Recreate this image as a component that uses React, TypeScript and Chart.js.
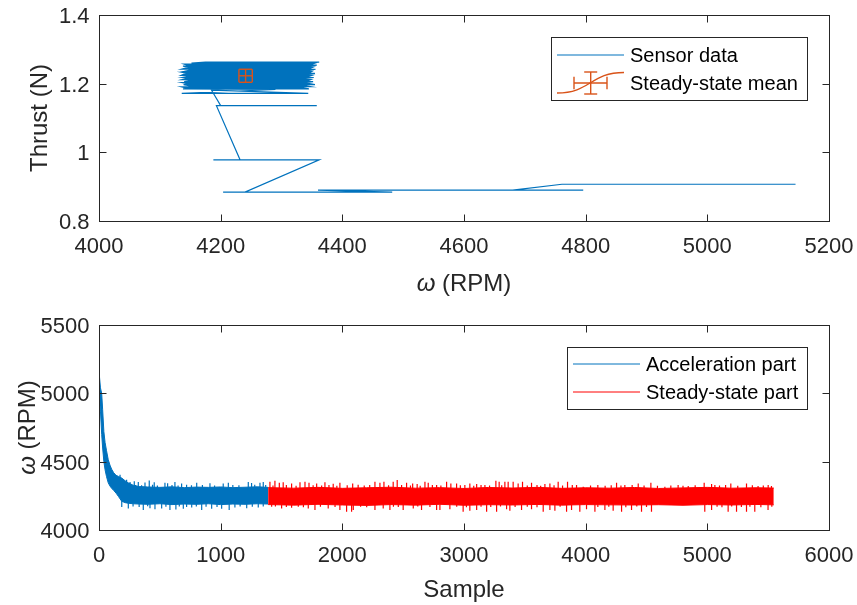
import React, { useEffect, useRef } from 'react';
import { Chart, registerables } from 'chart.js';

Chart.register(...registerables);

const BLUE = '#0072BD';
const ORANGE = '#D95319';
const RED = '#FF0000';
const AXIS = '#262626';
const FONT = '"Liberation Sans", Arial, Helvetica, sans-serif';

// ---------- upper panel: thrust against rotor speed ----------
const omegaTicks = [4000, 4200, 4400, 4600, 4800, 5000, 5200];
const omegaTickLabels = ['4000', '4200', '4400', '4600', '4800', '5000', '5200'];
const thrustTicks = [0.8, 1.0, 1.2, 1.4];
const thrustTickLabels = ['0.8', '1', '1.2', '1.4'];

// spin-down trace (RPM, N) while the load cell lags behind
const transientOmega = [5145, 4761, 4860, 4761, 4680, 4796, 4360, 4482, 4204, 4240, 4362, 4188, 4232, 4193, 4358, 4200, 4185, 4344, 4136, 4290];
const transientThrust = [0.907, 0.907, 0.907, 0.907, 0.89, 0.89, 0.89, 0.884, 0.884, 0.884, 0.978, 0.978, 0.978, 1.136, 1.136, 1.136, 1.181, 1.172, 1.172, 1.183];

// steady block: thrust level with the lowest / highest speed seen at it
const blockThrust = [1.185, 1.188, 1.191, 1.194, 1.197, 1.2, 1.203, 1.206, 1.209, 1.212, 1.215, 1.218, 1.221, 1.224, 1.227, 1.23, 1.233, 1.236, 1.239, 1.242, 1.245, 1.248, 1.251, 1.254, 1.257, 1.26, 1.263];
const blockLeft = [4138, 4143, 4136, 4148, 4139, 4145, 4137, 4140, 4150, 4136, 4142, 4138, 4146, 4135, 4139, 4145, 4137, 4140, 4148, 4136, 4142, 4150, 4138, 4145, 4140, 4152, 4175];
const blockRight = [4345, 4336, 4349, 4341, 4355, 4346, 4338, 4352, 4344, 4348, 4340, 4353, 4345, 4350, 4342, 4355, 4347, 4350, 4344, 4356, 4348, 4352, 4345, 4358, 4350, 4355, 4362];

// steady-state mean with its error bars
const meanOmega = 4241;
const meanThrust = 1.223;
const omegaErr = 11;
const thrustErr = 0.019;

// ---------- lower panel: rotor speed against sample ----------
const sampleTicks = [0, 1000, 2000, 3000, 4000, 5000, 6000];
const sampleTickLabels = ['0', '1000', '2000', '3000', '4000', '5000', '6000'];
const rpmTicks = [4000, 4500, 5000, 5500];
const rpmTickLabels = ['4000', '4500', '5000', '5500'];

// acceleration part: upper / lower envelope of the noisy trace
const accelSamples = [0, 4, 12, 22, 30, 40, 50, 62, 76, 90, 104, 120, 140, 160, 187, 215, 240, 280, 330, 400, 500, 600, 700, 800, 900, 1000, 1100, 1200, 1300, 1390];
const accelUpper = [5148, 5120, 5040, 5000, 4880, 4720, 4640, 4580, 4515, 4475, 4445, 4420, 4400, 4392, 4380, 4360, 4345, 4328, 4318, 4315, 4312, 4316, 4310, 4314, 4312, 4315, 4310, 4313, 4316, 4312];
const accelLower = [5148, 4960, 4870, 4700, 4600, 4500, 4440, 4390, 4345, 4322, 4305, 4290, 4270, 4245, 4210, 4200, 4196, 4192, 4190, 4188, 4192, 4186, 4190, 4188, 4192, 4186, 4190, 4188, 4192, 4190];
// excursions above / below the band
const accelHighSamples = [173, 227, 255, 290, 300, 323, 350, 378, 413, 440, 454, 480, 542, 564, 600, 624, 650, 679, 720, 760, 803, 850, 912, 950, 1021, 1063, 1100, 1150, 1227, 1254, 1280, 1323, 1350, 1370];
const accelHighValues = [4405, 4368, 4352, 4356, 4330, 4352, 4328, 4348, 4362, 4332, 4350, 4326, 4345, 4342, 4330, 4352, 4326, 4340, 4332, 4328, 4345, 4330, 4342, 4326, 4340, 4345, 4330, 4328, 4352, 4344, 4332, 4345, 4352, 4330];
const accelLowSamples = [187, 241, 280, 330, 364, 400, 419, 460, 515, 550, 583, 632, 660, 693, 720, 762, 800, 844, 880, 926, 970, 1008, 1070, 1117, 1160, 1214, 1260, 1309, 1350];
const accelLowValues = [4168, 4158, 4172, 4168, 4146, 4174, 4160, 4152, 4158, 4170, 4146, 4150, 4172, 4155, 4168, 4165, 4172, 4146, 4170, 4155, 4168, 4155, 4146, 4165, 4172, 4160, 4170, 4165, 4172];

// steady-state part
const steadySamples = [1390, 1600, 1800, 2000, 2200, 2400, 2600, 2800, 3000, 3200, 3400, 3600, 3800, 4000, 4200, 4400, 4600, 4800, 5000, 5200, 5400, 5546];
const steadyUpper = [4310, 4306, 4312, 4305, 4309, 4313, 4306, 4310, 4304, 4311, 4307, 4312, 4305, 4309, 4306, 4311, 4304, 4308, 4312, 4306, 4309, 4307];
const steadyLower = [4186, 4182, 4188, 4183, 4180, 4186, 4182, 4188, 4181, 4185, 4183, 4187, 4182, 4186, 4184, 4183, 4185, 4181, 4186, 4183, 4187, 4184];
const steadyHighSamples = [1405, 1430, 1446, 1482, 1514, 1540, 1583, 1620, 1652, 1693, 1726, 1760, 1789, 1830, 1857, 1890, 1925, 1955, 1980, 2040, 2085, 2130, 2180, 2225, 2268, 2309, 2342, 2380, 2418, 2451, 2487, 2528, 2560, 2578, 2615, 2640, 2679, 2706, 2740, 2775, 2810, 2857, 2892, 2939, 2970, 3007, 3048, 3080, 3104, 3140, 3172, 3210, 3262, 3289, 3310, 3336, 3363, 3404, 3445, 3481, 3520, 3555, 3600, 3630, 3665, 3706, 3740, 3774, 3810, 3851, 3890, 3925, 3980, 4040, 4100, 4160, 4210, 4254, 4290, 4322, 4382, 4432, 4480, 4536, 4590, 4651, 4700, 4760, 4800, 4843, 4900, 4974, 5035, 5062, 5100, 5150, 5193, 5250, 5322, 5370, 5417, 5460, 5500, 5527];
const steadyHighValues = [4353, 4326, 4361, 4346, 4349, 4330, 4341, 4324, 4349, 4353, 4346, 4328, 4341, 4326, 4349, 4330, 4339, 4324, 4346, 4328, 4341, 4332, 4326, 4330, 4353, 4346, 4353, 4328, 4353, 4366, 4329, 4346, 4326, 4341, 4336, 4324, 4353, 4346, 4330, 4329, 4326, 4353, 4341, 4341, 4328, 4329, 4341, 4324, 4336, 4330, 4329, 4326, 4361, 4353, 4328, 4353, 4353, 4353, 4341, 4353, 4326, 4346, 4330, 4324, 4336, 4341, 4328, 4353, 4326, 4353, 4330, 4329, 4317, 4326, 4330, 4324, 4328, 4346, 4326, 4329, 4329, 4341, 4326, 4346, 4324, 4317, 4326, 4330, 4324, 4322, 4328, 4346, 4336, 4329, 4326, 4330, 4341, 4324, 4341, 4328, 4322, 4326, 4330, 4322];
const steadyLowSamples = [1419, 1450, 1501, 1540, 1583, 1638, 1680, 1720, 1775, 1820, 1884, 1940, 1980, 2035, 2076, 2090, 2150, 2200, 2268, 2336, 2391, 2420, 2460, 2500, 2583, 2620, 2651, 2720, 2775, 2802, 2884, 2940, 2993, 3020, 3048, 3104, 3140, 3186, 3220, 3268, 3300, 3350, 3377, 3420, 3473, 3520, 3555, 3600, 3651, 3706, 3747, 3790, 3843, 3884, 3952, 4007, 4076, 4100, 4158, 4190, 4226, 4295, 4330, 4377, 4420, 4459, 4500, 4541, 4979, 5035, 5080, 5120, 5171, 5200, 5240, 5280, 5322, 5350, 5390, 5440, 5499, 5530];
const steadyLowValues = [4170, 4172, 4158, 4168, 4163, 4170, 4166, 4158, 4146, 4170, 4158, 4168, 4146, 4134, 4134, 4146, 4170, 4166, 4146, 4158, 4146, 4170, 4168, 4146, 4158, 4172, 4146, 4168, 4146, 4146, 4151, 4170, 4134, 4166, 4141, 4146, 4170, 4134, 4168, 4134, 4172, 4151, 4141, 4168, 4146, 4170, 4151, 4166, 4134, 4146, 4141, 4170, 4134, 4146, 4134, 4151, 4134, 4168, 4146, 4170, 4141, 4134, 4166, 4146, 4172, 4134, 4168, 4134, 4134, 4146, 4170, 4166, 4134, 4172, 4134, 4168, 4134, 4170, 4134, 4166, 4146, 4170];

// speed the noise band is centred on
const bandMidRpm = 4250;

// ---------- helpers ----------
type Pt = { x: number; y: number | null };

function envelope(xs: number[], ys: number[]): Pt[] {
  return xs.map((x, i) => ({ x, y: ys[i] }));
}

function spikes(xs: number[], ys: number[]): Pt[] {
  const out: Pt[] = [];
  xs.forEach((x, i) => {
    out.push({ x, y: bandMidRpm }, { x, y: ys[i] }, { x, y: null });
  });
  return out;
}

function sensorTrace(): Pt[] {
  const pts: Pt[] = transientOmega.map((w, i) => ({ x: w, y: transientThrust[i] }));
  blockThrust.forEach((t, i) => {
    const a = { x: blockLeft[i], y: t };
    const b = { x: blockRight[i], y: t };
    if (i % 2 === 0) pts.push(a, b);
    else pts.push(b, a);
  });
  return pts;
}

function seg(ctx: CanvasRenderingContext2D, x0: number, y0: number, x1: number, y1: number) {
  ctx.beginPath();
  ctx.moveTo(x0, y0);
  ctx.lineTo(x1, y1);
  ctx.stroke();
}

const crisp = (v: number) => Math.round(v) + 0.5;

function drawFrame(chart: any, xs: number[], ys: number[]) {
  const { ctx, chartArea: a, scales } = chart;
  const L = crisp(a.left), R = crisp(a.right), T = crisp(a.top), B = crisp(a.bottom);
  const len = 7;
  ctx.save();
  ctx.strokeStyle = AXIS;
  ctx.lineWidth = 1;
  ctx.strokeRect(L, T, R - L, B - T);
  xs.forEach((v) => {
    const px = crisp(scales.x.getPixelForValue(v));
    seg(ctx, px, B, px, B - len);
    seg(ctx, px, T, px, T + len);
  });
  ys.forEach((v) => {
    const py = crisp(scales.y.getPixelForValue(v));
    seg(ctx, L, py, L + len, py);
    seg(ctx, R, py, R - len, py);
  });
  ctx.restore();
}

function drawTickLabels(chart: any, xs: number[], xl: string[], ys: number[], yl: string[]) {
  const { ctx, chartArea: a, scales } = chart;
  const size = 22;
  ctx.save();
  ctx.fillStyle = AXIS;
  ctx.font = `${size}px ${FONT}`;
  ctx.textBaseline = 'alphabetic';
  ctx.textAlign = 'center';
  xs.forEach((v, i) => {
    ctx.fillText(xl[i], scales.x.getPixelForValue(v), a.bottom + 24 + size * 0.358);
  });
  ctx.textAlign = 'right';
  ys.forEach((v, i) => {
    ctx.fillText(yl[i], a.left - 9.5, scales.y.getPixelForValue(v) + size * 0.358);
  });
  ctx.restore();
}

type Part = { text: string; italic?: boolean };

function drawTitle(ctx: CanvasRenderingContext2D, parts: Part[], cx: number, cy: number, size: number, vertical: boolean) {
  ctx.save();
  ctx.fillStyle = AXIS;
  ctx.textBaseline = 'alphabetic';
  ctx.textAlign = 'left';
  const fontOf = (p: Part) => `${p.italic ? 'italic ' : ''}${size}px ${FONT}`;
  let total = 0;
  const widths = parts.map((p) => {
    ctx.font = fontOf(p);
    const w = ctx.measureText(p.text).width;
    total += w;
    return w;
  });
  ctx.translate(cx, cy);
  if (vertical) ctx.rotate(-Math.PI / 2);
  let x = -total / 2;
  parts.forEach((p, i) => {
    ctx.font = fontOf(p);
    ctx.fillText(p.text, x, size * 0.358);
    x += widths[i];
  });
  ctx.restore();
}

function legendBox(ctx: CanvasRenderingContext2D, a: any, labels: string[], h: number) {
  ctx.font = `20px ${FONT}`;
  const tw = Math.max(...labels.map((l) => ctx.measureText(l).width));
  const w = Math.round(79 + tw + 9);
  const right = Math.round(a.right - 22);
  const left = right - w;
  const top = Math.round(a.top + 22);
  ctx.fillStyle = '#ffffff';
  ctx.fillRect(left, top, w, h);
  ctx.strokeStyle = AXIS;
  ctx.lineWidth = 1;
  ctx.strokeRect(left + 0.5, top + 0.5, w, h);
  return { left, top };
}

function legendText(ctx: CanvasRenderingContext2D, text: string, x: number, cy: number) {
  ctx.fillStyle = '#000000';
  ctx.font = `20px ${FONT}`;
  ctx.textAlign = 'left';
  ctx.textBaseline = 'alphabetic';
  ctx.fillText(text, x, cy + 20 * 0.358);
}

const omegaTitle: Part[] = [{ text: 'ω', italic: true }, { text: ' (RPM)' }];

// ---------- upper panel decorations ----------
const thrustDecor = {
  id: 'thrustDecor',
  afterDatasetsDraw(chart: any) {
    const { ctx, chartArea: a, scales } = chart;
    const sx = scales.x, sy = scales.y;

    // mean with error bars
    const cx = sx.getPixelForValue(meanOmega);
    const cy = sy.getPixelForValue(meanThrust);
    const xl = sx.getPixelForValue(meanOmega - omegaErr);
    const xr = sx.getPixelForValue(meanOmega + omegaErr);
    const yb = sy.getPixelForValue(meanThrust - thrustErr);
    const yt = sy.getPixelForValue(meanThrust + thrustErr);
    const cap = 6.5;
    ctx.save();
    ctx.strokeStyle = ORANGE;
    ctx.lineWidth = 1.4;
    seg(ctx, xl, cy, xr, cy);
    seg(ctx, xl, cy - cap, xl, cy + cap);
    seg(ctx, xr, cy - cap, xr, cy + cap);
    seg(ctx, cx, yb, cx, yt);
    seg(ctx, cx - cap, yb, cx + cap, yb);
    seg(ctx, cx - cap, yt, cx + cap, yt);
    ctx.restore();

    drawFrame(chart, omegaTicks, thrustTicks);
    drawTickLabels(chart, omegaTicks, omegaTickLabels, thrustTicks, thrustTickLabels);

    // legend
    ctx.save();
    const labels = ['Sensor data', 'Steady-state mean'];
    const { left, top } = legendBox(ctx, a, labels, 63);
    const r1 = top + 18, r2 = top + 46;
    ctx.strokeStyle = BLUE;
    ctx.lineWidth = 1.2;
    seg(ctx, left + 6, r1, left + 73, r1);
    // errorbar glyph
    ctx.strokeStyle = ORANGE;
    ctx.lineWidth = 1.4;
    const x0 = left + 6, x1 = left + 73, xm = (x0 + x1) / 2;
    ctx.beginPath();
    ctx.moveTo(x0, r2 + 10);
    ctx.bezierCurveTo(xm, r2 + 10, xm, r2 - 10.5, x1, r2 - 10.5);
    ctx.stroke();
    const gx = left + 39.7;
    seg(ctx, left + 23, r2, left + 56, r2);
    seg(ctx, left + 23, r2 - 6.3, left + 23, r2 + 6.3);
    seg(ctx, left + 56, r2 - 6.3, left + 56, r2 + 6.3);
    seg(ctx, gx, r2 - 11, gx, r2 + 11);
    seg(ctx, gx - 6.5, r2 - 11, gx + 6.5, r2 - 11);
    seg(ctx, gx - 6.5, r2 + 11, gx + 6.5, r2 + 11);
    legendText(ctx, labels[0], left + 79, r1);
    legendText(ctx, labels[1], left + 79, r2);
    ctx.restore();

    // axis titles
    const midX = (a.left + a.right) / 2;
    drawTitle(ctx, omegaTitle, midX, a.bottom + 61, 24, false);
    drawTitle(ctx, [{ text: 'Thrust (N)' }], 38.5, (a.top + a.bottom) / 2, 24, true);
  },
};

// ---------- lower panel decorations ----------
const speedDecor = {
  id: 'speedDecor',
  afterDatasetsDraw(chart: any) {
    const { ctx, chartArea: a } = chart;
    drawFrame(chart, sampleTicks, rpmTicks);
    drawTickLabels(chart, sampleTicks, sampleTickLabels, rpmTicks, rpmTickLabels);

    ctx.save();
    const labels = ['Acceleration part', 'Steady-state part'];
    const { left, top } = legendBox(ctx, a, labels, 62);
    const r1 = top + 17, r2 = top + 45;
    ctx.lineWidth = 1;
    ctx.strokeStyle = BLUE;
    seg(ctx, left + 6, r1, left + 73, r1);
    ctx.strokeStyle = RED;
    seg(ctx, left + 6, r2, left + 73, r2);
    legendText(ctx, labels[0], left + 79, r1);
    legendText(ctx, labels[1], left + 79, r2);
    ctx.restore();

    const midX = (a.left + a.right) / 2;
    drawTitle(ctx, [{ text: 'Sample' }], midX, a.bottom + 58, 24, false);
    drawTitle(ctx, omegaTitle, 26, (a.top + a.bottom) / 2, 24, true);
  },
};

function baseScales(xMin: number, xMax: number, yMin: number, yMax: number, xHeight: number) {
  const hidden = {
    grid: { display: false, drawTicks: false },
    border: { display: false },
    ticks: { display: false },
  };
  return {
    x: { type: 'linear', min: xMin, max: xMax, ...hidden, afterFit: (s: any) => { s.height = xHeight; } },
    y: { type: 'linear', min: yMin, max: yMax, ...hidden, afterFit: (s: any) => { s.width = 99; } },
  };
}

const commonOptions = {
  animation: false,
  responsive: false,
  devicePixelRatio: 1,
  events: [],
  plugins: { legend: { display: false }, tooltip: { enabled: false } },
  elements: { point: { radius: 0 }, line: { tension: 0 } },
};

export default function App() {
  const topRef = useRef<HTMLCanvasElement>(null);
  const bottomRef = useRef<HTMLCanvasElement>(null);

  useEffect(() => {
    const top = new Chart(topRef.current as HTMLCanvasElement, {
      type: 'line',
      data: {
        datasets: [
          { label: 'Sensor data', data: sensorTrace(), borderColor: BLUE, borderWidth: 1.2, fill: false },
        ],
      },
      options: {
        ...commonOptions,
        layout: { padding: { left: 0, right: 28, top: 15, bottom: 0 } },
        scales: baseScales(4000, 5200, 0.8, 1.4, 79),
      },
      plugins: [thrustDecor],
    } as any);

    const bottom = new Chart(bottomRef.current as HTMLCanvasElement, {
      type: 'line',
      data: {
        datasets: [
          { label: 'accel-low', data: envelope(accelSamples, accelLower), borderColor: BLUE, borderWidth: 1, fill: false },
          { label: 'Acceleration part', data: envelope(accelSamples, accelUpper), borderColor: BLUE, backgroundColor: BLUE, borderWidth: 1, fill: '-1' },
          { label: 'accel-spikes', data: spikes(accelHighSamples.concat(accelLowSamples), accelHighValues.concat(accelLowValues)), borderColor: BLUE, borderWidth: 1.2, fill: false },
          { label: 'steady-low', data: envelope(steadySamples, steadyLower), borderColor: RED, borderWidth: 1, fill: false },
          { label: 'Steady-state part', data: envelope(steadySamples, steadyUpper), borderColor: RED, backgroundColor: RED, borderWidth: 1, fill: '-1' },
          { label: 'steady-spikes', data: spikes(steadyHighSamples.concat(steadyLowSamples), steadyHighValues.concat(steadyLowValues)), borderColor: RED, borderWidth: 1.2, fill: false },
        ],
      },
      options: {
        ...commonOptions,
        layout: { padding: { left: 0, right: 28, top: 25, bottom: 0 } },
        scales: baseScales(0, 6000, 4000, 5500, 75),
      },
      plugins: [speedDecor],
    } as any);

    return () => {
      top.destroy();
      bottom.destroy();
    };
  }, []);

  return (
    <div style={{ position: 'absolute', left: 0, top: 0, width: 857, height: 605, background: '#ffffff' }}>
      <canvas ref={topRef} width={857} height={300} style={{ display: 'block', width: 857, height: 300 }} />
      <canvas ref={bottomRef} width={857} height={305} style={{ display: 'block', width: 857, height: 305 }} />
    </div>
  );
}
